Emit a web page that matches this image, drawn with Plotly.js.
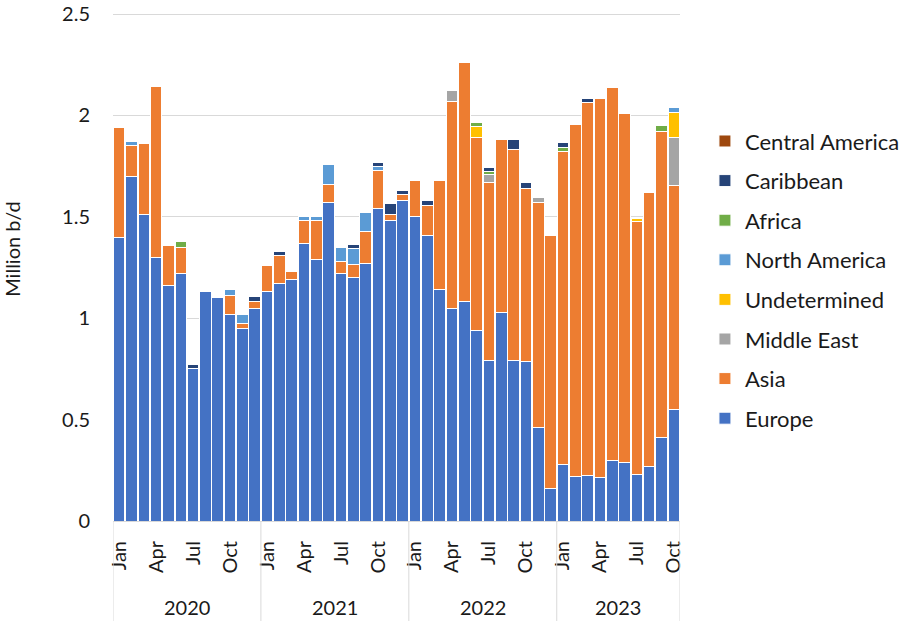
<!DOCTYPE html>
<html>
<head>
<meta charset="utf-8">
<script src="https://cdn.plot.ly/plotly-3.0.1.min.js"></script>
<style>html,body{margin:0;padding:0;background:#fff;}#chart{width:900px;height:621px;}</style>
</head>
<body>
<div id="chart"></div>
<script>
var years = [2020, 2021, 2022, 2023];
var monthNames = ["Jan","Feb","Mar","Apr","May","Jun","Jul","Aug","Sep","Oct","Nov","Dec"];
var lastMonthCount = 10; // data runs to Oct 2023
var shownMonths = ["Jan","Apr","Jul","Oct"];
var yTickVals = [0, 0.5, 1, 1.5, 2, 2.5];
var yTickText = ["0", "0.5", "1", "1.5", "2", "2.5"];

var europe = [1.40,1.70,1.51,1.30,1.16,1.22,0.75,1.13,1.10,1.02,0.95,1.05,
              1.13,1.17,1.19,1.37,1.29,1.57,1.22,1.20,1.27,1.54,1.48,1.58,
              1.50,1.41,1.14,1.05,1.08,0.94,0.79,1.03,0.79,0.785,0.46,0.16,
              0.28,0.22,0.225,0.215,0.30,0.29,0.23,0.27,0.41,0.55];
var asia = [0.54,0.15,0.35,0.845,0.20,0.13,0,0,0,0.09,0.025,0.03,
            0.13,0.14,0.04,0.11,0.19,0.09,0.06,0.065,0.16,0.19,0.03,0.03,
            0.18,0.145,0.54,1.02,1.18,0.95,0.88,0.85,1.04,0.857,1.11,1.25,
            1.54,1.735,1.84,1.87,1.84,1.72,1.245,1.35,1.51,1.105];
var middleEast = [0,0,0,0,0,0,0,0,0,0,0,0,
                  0,0,0,0,0,0,0,0,0,0,0,0,
                  0,0,0,0.055,0,0,0.04,0,0,0,0.025,0,
                  0,0,0,0,0,0,0,0,0,0.235];
var undetermined = [0,0,0,0,0,0,0,0,0,0,0,0,
                    0,0,0,0,0,0,0,0,0,0,0,0,
                    0,0,0,0,0,0.055,0,0,0,0,0,0,
                    0,0,0,0,0,0,0.015,0,0,0.125];
var northAmerica = [0,0.02,0,0,0,0,0,0,0,0.03,0.045,0,
                    0,0,0,0.02,0.02,0.10,0.07,0.08,0.09,0.02,0,0,
                    0,0,0,0,0,0,0,0,0,0,0,0,
                    0,0,0,0,0,0,0,0,0,0.025];
var africa = [0,0,0,0,0,0.03,0,0,0,0,0,0,
              0,0,0,0,0,0,0,0,0,0,0,0,
              0,0,0,0,0,0.02,0.015,0,0,0,0,0,
              0.02,0,0,0,0,0,0,0,0.03,0];
var caribbean = [0,0,0,0,0,0,0.02,0,0,0,0,0.025,
                 0,0.02,0,0,0,0,0,0.02,0,0.02,0.055,0.02,
                 0,0.025,0,0,0,0,0.02,0,0.05,0.025,0,0,
                 0.025,0,0.02,0,0,0,0,0,0,0];
var centralAmerica = [0,0,0,0,0,0,0,0,0,0,0,0,
                      0,0,0,0,0,0,0,0,0,0,0,0,
                      0,0,0,0,0,0,0,0,0,0,0,0,
                      0,0,0,0,0,0,0,0,0,0];

var seriesNames = ["Europe","Asia","Middle East","Undetermined","North America","Africa","Caribbean","Central America"];
var seriesData = [europe, asia, middleEast, undetermined, northAmerica, africa, caribbean, centralAmerica];
var seriesColors = ["#4472C4","#ED7D31","#A5A5A5","#FFC000","#5B9BD5","#70AD47","#264478","#9E480E"];

// category labels
var xLabels = [], tickVals = [], tickText = [], yearStart = [], yearEnd = [];
years.forEach(function(y, yi){
  var n = (yi === years.length - 1) ? lastMonthCount : 12;
  yearStart.push(xLabels.length);
  for (var m = 0; m < n; m++) {
    var lab = monthNames[m] + " " + y;
    if (shownMonths.indexOf(monthNames[m]) >= 0) { tickVals.push(lab); tickText.push(monthNames[m]); }
    xLabels.push(lab);
  }
  yearEnd.push(xLabels.length - 1);
});

var FONT = "Lato, 'Open Sans', sans-serif";
var TXT = "#1a1a1a";
var traces = seriesNames.map(function(name, i){
  return {
    type: "bar", name: name, x: xLabels, y: seriesData[i],
    legendgroup: name, legendrank: seriesNames.length - i,
    marker: {color: seriesColors[i], line: {color: "#ffffff", width: 1}},
    hoverinfo: "x+y+name"
  };
});

var shapes = [];
var dividers = yearStart.map(function(s){ return s - 0.5; }).concat([yearEnd[yearEnd.length-1] + 0.5]);
dividers.forEach(function(d){
  shapes.push({type:"line", xref:"x", yref:"paper", x0:d, x1:d, y0:0, y1:-0.2,
               line:{color:"#D9D9D9", width:1}});
});
var annotations = years.map(function(y, i){
  return {xref:"x", yref:"paper", x:(yearStart[i]+yearEnd[i])/2, y:-0.169,
          text:String(y), showarrow:false, yanchor:"middle",
          font:{family:FONT, size:20, color:TXT}};
});
annotations.push({xref:"paper", yref:"paper", x:-0.178, y:0.534, textangle:-90,
                  text:"Million b/d", showarrow:false, xanchor:"center", yanchor:"middle",
                  font:{family:FONT, size:20, color:TXT}});

var layout = {
  width: 900, height: 621,
  margin: {l:113, r:220, t:13, b:100, pad:0, autoexpand: false},
  paper_bgcolor: "#fff", plot_bgcolor: "#fff",
  barmode: "stack", bargap: 0.06,
  font: {family: FONT, size: 20, color: TXT},
  showlegend: true,
  legend: {x: 1.044, xanchor: "left", y: 0.789, yanchor: "top",
           traceorder: "grouped", tracegroupgap: 8,
           font: {family: FONT, size: 22, color: TXT}, bgcolor: "rgba(0,0,0,0)"},
  xaxis: {type: "category", categoryorder: "array", categoryarray: xLabels,
          range: [-0.5, xLabels.length - 0.5],
          tickmode: "array", tickvals: tickVals, ticktext: tickText, tickangle: -90,
          ticks: "", showgrid: false, zeroline: false, showline: true, linecolor: "#D9D9D9",
          ticklabelstandoff: 11,
          tickfont: {family: FONT, size: 20, color: TXT}, automargin: false},
  yaxis: {range: [0, 2.505], tickvals: yTickVals, ticktext: yTickText,
          showgrid: true, gridcolor: "#D9D9D9", zeroline: false, showline: false, ticks: "",
          ticklabelstandoff: 22, ticklabeloverflow: "allow",
          tickfont: {family: FONT, size: 20, color: TXT},
          automargin: false},
  shapes: shapes,
  annotations: annotations
};

Plotly.newPlot("chart", traces, layout, {displayModeBar: false, staticPlot: true});
</script>
</body>
</html>
